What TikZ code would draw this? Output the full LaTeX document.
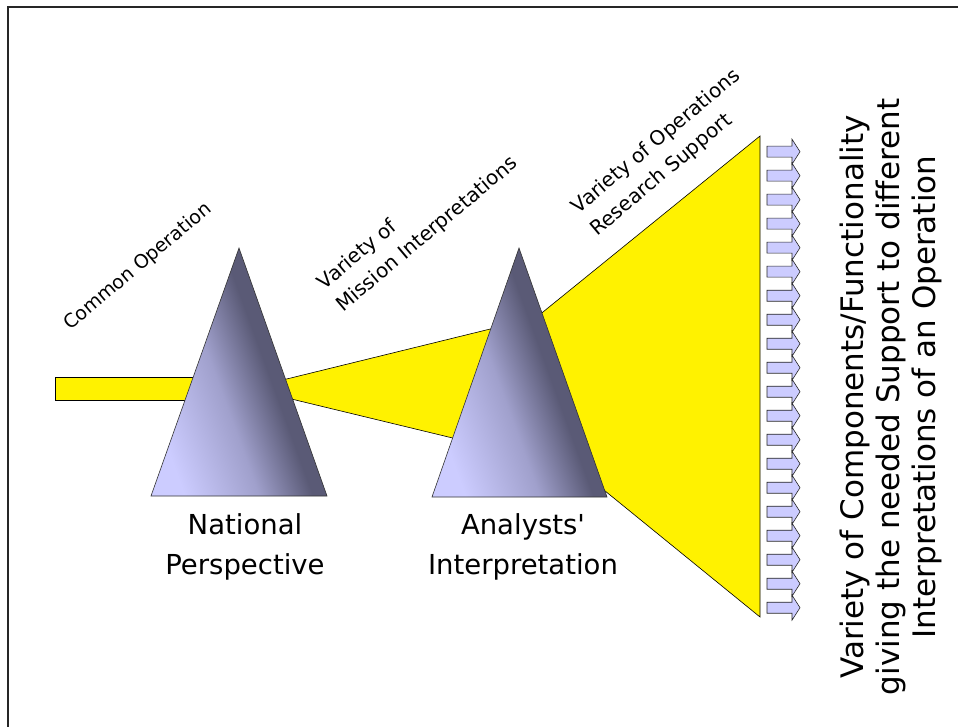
\documentclass[tikz,border=0pt]{standalone}
\usepackage{fontspec}
\setmainfont{DejaVu Sans}
\definecolor{triLight}{HTML}{CCCCFF}
\definecolor{triMid}{HTML}{A0A0CC}
\definecolor{triDark}{HTML}{5A5A76}
\definecolor{arrFill}{HTML}{CCCCFF}
\pgfdeclarehorizontalshading{prism}{100bp}{color(0bp)=(triLight); color(26bp)=(triLight); color(44bp)=(triMid); color(57bp)=(triDark); color(100bp)=(triDark)}
\begin{document}
\begin{tikzpicture}[x=1pt,y=-1pt,line width=.6pt,
                     yl/.style={fill=yellow,draw=black,line width=.6pt},
                     tri/.style={shading=prism,shading angle=20,draw=black!80,line width=.6pt},
                     arr/.style={fill=arrFill,draw=black!85,line width=.6pt},
                     sl/.style={rotate=40,inner sep=0pt,align=left,font=\fontsize{20}{29}\selectfont},
                     lb/.style={inner sep=0pt,align=center,font=\fontsize{27.5}{40}\selectfont}]
                     \useasboundingbox (0,0) rectangle (958,727);
                     \fill[white] (0,0) rectangle (958,727);
                     \clip (0,0) rectangle (958,727);
                     \draw[line width=2pt,black!85] (8,7) rectangle (990,760);
                     % light beam
                     \draw [yl] (55,377) rectangle (240,400);
                     \draw [yl] (248,388.5) -- (520,321.7) -- (520,454.3) -- cycle;
                     \draw [yl] (520,376) -- (530,322.5) -- (760,136) -- (760,617) -- (590,478.7) -- cycle;
                     % prisms
                     \shade [tri] (239,248) -- (327,496) -- (151,496) -- cycle;
                     \shade [tri] (519,248) -- (607,497) -- (432,497) -- cycle;
                     \foreach \c in {0,...,19}
                         \draw [arr] (767,151.7+24*\c-5.5) -- (792,151.7+24*\c-5.5) -- (792,151.7+24*\c-12.5) -- (800,151.7+24*\c)
                                     -- (792,151.7+24*\c+12.5) -- (792,151.7+24*\c+5.5) -- (767,151.7+24*\c+5.5) -- cycle;
                     \node[sl,font=\fontsize{19}{29}\selectfont] (common) at (138,267) {Common Operation};
                     \node[sl,anchor=south west] (mission) at (346,316) {Variety of\\Mission Interpretations};
                     \node[sl,anchor=south west] (orsupport) at (600,240) {Variety of Operations\\Research Support};
                     \node[lb,anchor=north] (natl) at (245,513) {National\\Perspective};
                     \node[lb,anchor=north] (anal) at (523,513) {Analysts\textquotesingle\\Interpretation};
                     \node[rotate=90,inner sep=0pt,align=center,font=\fontsize{31}{36}\selectfont] (variety) at (891,397)
                          {Variety of Components/Functionality\\giving the needed Support to different\\Interpretations of an Operation};
                 \end{tikzpicture}
\end{document}
